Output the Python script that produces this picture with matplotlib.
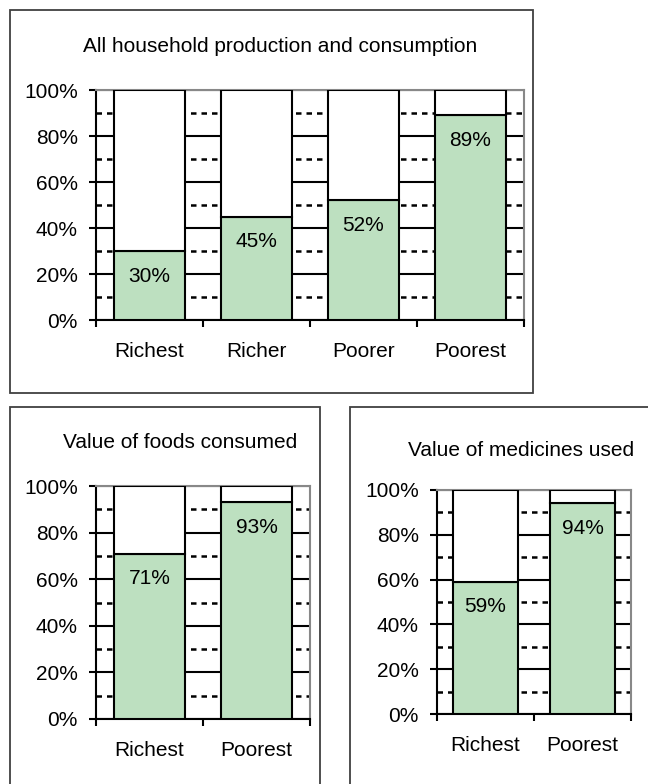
import numpy as np
import matplotlib.pyplot as plt
from matplotlib.patches import Rectangle

plt.rcParams['font.family'] = ['Liberation Sans', 'DejaVu Sans']

# data
top_cats = ['Richest', 'Richer', 'Poorer', 'Poorest']
top_vals = [30, 45, 52, 89]
food_cats = ['Richest', 'Poorest']
food_vals = [71, 93]
med_cats = ['Richest', 'Poorest']
med_vals = [59, 94]

GREEN = '#bde0c0'
W, H = 648, 784
fig = plt.figure(figsize=(W / 100, H / 100), dpi=100)


def px_rect(x0, y0, x1, y1):
    # pixel box (top-left origin) -> figure fraction [left, bottom, width, height]
    return [x0 / W, 1 - y1 / H, (x1 - x0) / W, (y1 - y0) / H]


# chart frames
for x0, y0, x1, y1 in [(10, 10, 533, 393), (10, 407, 320, 800), (350, 407, 670, 800)]:
    l, b, w, h = px_rect(x0, y0, x1, y1)
    fig.patches.append(Rectangle((l, b), w, h, transform=fig.transFigure,
                                 fill=False, edgecolor='#404040', lw=1.3))


def panel(rect, cats, vals, title, title_xy):
    ax = fig.add_axes(px_rect(*rect))
    x = np.arange(len(cats))
    vals = np.array(vals)
    ax.bar(x, vals, width=0.67, color=GREEN, edgecolor='black', lw=1.5, zorder=3)
    ax.bar(x, 100 - vals, bottom=vals, width=0.67, color='white',
           edgecolor='black', lw=1.5, zorder=3)
    for xi, v in zip(x, vals):
        ax.annotate(f'{v}%', (xi, v), xytext=(0, -18), textcoords='offset points',
                    ha='center', va='center', fontsize=15, zorder=4)

    ax.set_ylim(0, 100)
    ax.set_xlim(-0.5, len(cats) - 0.5)
    ax.set_yticks(np.arange(0, 101, 20))
    ax.set_yticklabels([f'{t}%' for t in range(0, 101, 20)], fontsize=15)
    ax.set_yticks([10, 30, 50, 70, 90], minor=True)
    ax.tick_params(axis='y', which='major', direction='out', length=5, width=1.5, pad=8)
    ax.tick_params(axis='y', which='minor', length=0)
    ax.grid(axis='y', which='major', color='black', lw=1.5)
    ax.grid(axis='y', which='minor', color='black', lw=1.8, linestyle=(0, (2.2, 2)))
    ax.set_axisbelow(True)

    ax.set_xticks(np.arange(len(cats) + 1) - 0.5)
    ax.set_xticklabels([])
    ax.set_xticks(x, minor=True)
    ax.set_xticklabels(cats, minor=True, fontsize=15)
    ax.tick_params(axis='x', which='major', direction='out', length=5, width=1.5)
    ax.tick_params(axis='x', which='minor', length=0, pad=16)

    for s in ['left', 'bottom']:
        ax.spines[s].set_color('black')
        ax.spines[s].set_linewidth(1.5)
    for s in ['top', 'right']:
        ax.spines[s].set_color('#888888')
        ax.spines[s].set_linewidth(1.5)

    fig.text(title_xy[0] / W, 1 - title_xy[1] / H, title, ha='center', va='center',
             fontsize=15)
    return ax


panel((96, 90, 524, 320), top_cats, top_vals,
      'All household production and consumption', (280, 47))
panel((96, 486, 310, 719), food_cats, food_vals,
      'Value of foods consumed', (180, 443))
panel((437, 490, 631, 714), med_cats, med_vals,
      'Value of medicines used', (521, 450))

fig.savefig('out.png', dpi=100)
